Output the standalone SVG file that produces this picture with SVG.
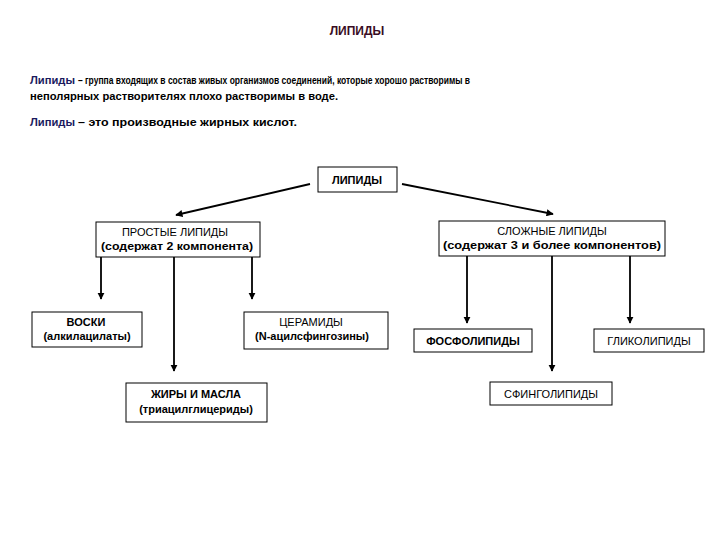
<svg xmlns="http://www.w3.org/2000/svg" width="720" height="540" viewBox="0 0 720 540">
<defs>
<marker id="ah" viewBox="0 0 10 10" refX="9" refY="5" markerWidth="4" markerHeight="4" orient="auto" markerUnits="strokeWidth">
<path d="M0,0 L10,5 L0,10 z" fill="#000"/>
</marker>
<style>
text{font-family:"Liberation Sans",Arial,sans-serif;fill:#000}
.t{font-size:11px;text-anchor:middle}
.b{font-weight:bold}
.box{fill:#fff;stroke:#000;stroke-width:1}
.c{stroke:#000;stroke-width:1.8;fill:none;marker-end:url(#ah)}
.p{font-size:11px;font-weight:bold}
.blue{fill:#1a1a5e}
</style>
</defs>
<rect width="720" height="540" fill="#fff"/>
<text x="357" y="35" class="t b" style="font-size:12px;fill:#3a0c24">ЛИПИДЫ</text>
<text x="30" y="84" class="p blue" textLength="45" lengthAdjust="spacingAndGlyphs">Липиды</text>
<text x="78" y="84" class="p" textLength="392" lengthAdjust="spacingAndGlyphs">– группа входящих в состав живых организмов соединений, которые хорошо растворимы в</text>
<text x="30" y="100" class="p" textLength="308" lengthAdjust="spacingAndGlyphs">неполярных растворителях плохо растворимы в воде.</text>
<text x="30" y="126" class="p blue" textLength="45" lengthAdjust="spacingAndGlyphs">Липиды</text>
<text x="78" y="126" class="p" textLength="219" lengthAdjust="spacingAndGlyphs">– это производные жирных кислот.</text>

<g id="connectors">
<line class="c" x1="310" y1="184" x2="176" y2="215"/>
<line class="c" x1="402" y1="184" x2="553" y2="214"/>
<line class="c" x1="101" y1="257" x2="101" y2="299"/>
<line class="c" x1="174" y1="257" x2="174" y2="371"/>
<line class="c" x1="252" y1="257" x2="252" y2="299"/>
<line class="c" x1="467" y1="256" x2="467" y2="323"/>
<line class="c" x1="552" y1="256" x2="552" y2="371"/>
<line class="c" x1="630" y1="256" x2="630" y2="323"/>
</g>

<g id="lipidy">
<rect class="box" x="318" y="167" width="79" height="25"/>
<text x="357" y="184" class="t b">ЛИПИДЫ</text>
</g>
<g id="prostye">
<rect class="box" x="96" y="222" width="164" height="35"/>
<text x="175" y="236" class="t">ПРОСТЫЕ ЛИПИДЫ</text>
<text x="177" y="250" class="t b" textLength="152" lengthAdjust="spacingAndGlyphs">(содержат 2 компонента)</text>
</g>
<g id="slozhnye">
<rect class="box" x="439" y="221" width="226" height="35"/>
<text x="552" y="235" class="t">СЛОЖНЫЕ ЛИПИДЫ</text>
<text x="552" y="249" class="t b" textLength="218" lengthAdjust="spacingAndGlyphs">(содержат 3 и более компонентов)</text>
</g>
<g id="voski">
<rect class="box" x="32" y="312" width="110" height="35"/>
<text x="86" y="326" class="t b">ВОСКИ</text>
<text x="87" y="340" class="t b">(алкилацилаты)</text>
</g>
<g id="ceramidy">
<rect class="box" x="244" y="312" width="144" height="37"/>
<text x="311" y="326" class="t">ЦЕРАМИДЫ</text>
<text x="312" y="340" class="t b">(N-ацилсфингозины)</text>
</g>
<g id="zhiry">
<rect class="box" x="126" y="383" width="141" height="39"/>
<text x="196" y="398" class="t b">ЖИРЫ И МАСЛА</text>
<text x="196" y="413" class="t b">(триацилглицериды)</text>
</g>
<g id="fosfo">
<rect class="box" x="414" y="329" width="118" height="23"/>
<text x="473" y="345" class="t b">ФОСФОЛИПИДЫ</text>
</g>
<g id="gliko">
<rect class="box" x="594" y="329" width="110" height="23"/>
<text x="649" y="345" class="t">ГЛИКОЛИПИДЫ</text>
</g>
<g id="sfingo">
<rect class="box" x="490" y="382" width="122" height="23"/>
<text x="551" y="398" class="t">СФИНГОЛИПИДЫ</text>
</g>
</svg>
